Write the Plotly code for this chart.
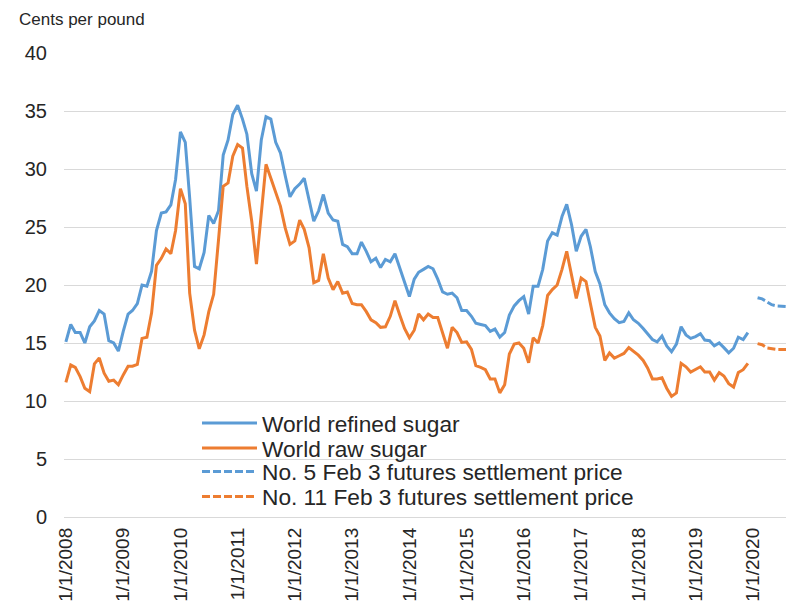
import pandas as pd
import plotly.graph_objects as go

# ---- data (cents per pound) ----
months = pd.date_range("2008-01-01", periods=144, freq="MS")

refined = [
    15.1, 16.6, 15.9, 15.9, 15.0, 16.4, 16.9, 17.8, 17.5, 15.2, 15.0, 14.3,   # 2008
    16.0, 17.5, 17.8, 18.4, 20.0, 19.9, 21.2, 24.7, 26.2, 26.3, 26.9, 29.1,   # 2009
    33.2, 32.3, 27.5, 21.6, 21.4, 22.8, 26.0, 25.3, 26.4, 31.2, 32.5, 34.7,   # 2010
    35.5, 34.3, 33.0, 29.6, 28.1, 32.5, 34.5, 34.3, 32.3, 31.4, 29.4, 27.6,   # 2011
    28.3, 28.7, 29.2, 27.3, 25.5, 26.4, 27.8, 26.2, 25.6, 25.5, 23.5, 23.3,   # 2012
    22.7, 22.7, 23.7, 22.9, 22.0, 22.3, 21.5, 22.2, 22.0, 22.7, 21.4, 20.3,   # 2013
    19.0, 20.5, 21.1, 21.35, 21.6, 21.4, 20.5, 19.4, 19.2, 19.3, 18.9, 17.8,  # 2014
    17.8, 17.3, 16.7, 16.6, 16.5, 16.0, 16.2, 15.5, 15.9, 17.4, 18.2, 18.65,  # 2015
    19.0, 17.5, 19.9, 19.9, 21.35, 23.8, 24.5, 24.3, 25.9, 26.95, 25.2, 22.9, # 2016
    24.2, 24.8, 23.3, 21.15, 20.1, 18.3, 17.6, 17.1, 16.75, 16.85, 17.6, 17.0,  # 2017
    16.7, 16.25, 15.8, 15.3, 15.1, 15.6, 14.75, 14.25, 14.9, 16.4, 15.7, 15.4,  # 2018
    15.55, 15.8, 15.25, 15.2, 14.75, 15.0, 14.6, 14.15, 14.55, 15.5, 15.3, 15.9,  # 2019
]

raw = [
    11.6, 13.1, 12.9, 12.1, 11.1, 10.8, 13.2, 13.7, 12.4, 11.7, 11.8, 11.4,   # 2008
    12.25, 13.0, 13.0, 13.15, 15.4, 15.5, 17.6, 21.7, 22.3, 23.1, 22.7, 24.7,  # 2009
    28.3, 27.0, 19.3, 16.1, 14.5, 15.7, 17.7, 19.2, 23.9, 28.5, 28.8, 31.1,   # 2010
    32.1, 31.8, 28.5, 25.5, 21.8, 26.0, 30.4, 29.2, 28.0, 26.8, 24.9, 23.5,   # 2011
    23.8, 25.6, 24.8, 23.2, 20.2, 20.4, 22.7, 20.6, 19.6, 20.3, 19.3, 19.4,   # 2012
    18.4, 18.3, 18.3, 17.7, 17.0, 16.75, 16.35, 16.4, 17.3, 18.65, 17.4, 16.25,  # 2013
    15.45, 16.1, 17.5, 17.0, 17.5, 17.2, 17.2, 15.85, 14.55, 16.35, 15.9, 15.05,  # 2014
    15.1, 14.45, 13.05, 12.9, 12.7, 11.9, 11.9, 10.7, 11.4, 14.05, 14.9, 15.0,   # 2015
    14.55, 13.3, 15.45, 15.0, 16.5, 19.1, 19.6, 20.0, 21.35, 22.9, 20.9, 18.85,  # 2016
    20.6, 20.3, 18.4, 16.35, 15.6, 13.5, 14.15, 13.7, 13.9, 14.1, 14.6, 14.3,   # 2017
    13.95, 13.5, 12.85, 11.9, 11.9, 12.0, 11.1, 10.4, 10.7, 13.25, 12.95, 12.5,  # 2018
    12.7, 12.95, 12.5, 12.5, 11.8, 12.45, 12.15, 11.5, 11.2, 12.45, 12.7, 13.25,  # 2019
]

fut_months = ["2020-02-01", "2020-03-01", "2020-04-01", "2020-05-01",
              "2020-06-01", "2020-07-01", "2020-08-01"]
no5_futures = [18.9, 18.8, 18.55, 18.3, 18.2, 18.15, 18.15]
no11_futures = [14.95, 14.85, 14.57, 14.48, 14.45, 14.45, 14.45]

tick_years = list(range(2008, 2021))
tick_vals = [f"{y}-01-01" for y in tick_years]
tick_text = [f"1/1/{y}" for y in tick_years]

names = ["World refined sugar", "World raw sugar",
         "No. 5 Feb 3 futures settlement price",
         "No. 11 Feb 3 futures settlement price"]

BLUE = "#5B9BD5"
ORANGE = "#ED7D31"
FONT = "Liberation Sans, Arial, sans-serif"
TXT = "#262626"

fig = go.Figure()
fig.add_trace(go.Scatter(x=months, y=refined, mode="lines", name=names[0],
                         line=dict(color=BLUE, width=3), legend="legend"))
fig.add_trace(go.Scatter(x=months, y=raw, mode="lines", name=names[1],
                         line=dict(color=ORANGE, width=3), legend="legend2"))
fig.add_trace(go.Scatter(x=fut_months, y=no5_futures, mode="lines", name=names[2],
                         line=dict(color=BLUE, width=3, dash="8px,3px"), legend="legend3"))
fig.add_trace(go.Scatter(x=fut_months, y=no11_futures, mode="lines", name=names[3],
                         line=dict(color=ORANGE, width=3, dash="8px,3px"), legend="legend4"))

# The page body adds an 8px offset; size the figure so it fits the 794x603 window.
OFF = 8
W, H = 794 - OFF, 603 - OFF
# plot area in page pixels: x 64..793, y 53..517
L = 64 - OFF
T = 53 - OFF
R = W - (793 - OFF)
B = H - (517 - OFF)
pw, ph = W - L - R, H - T - B

def px_to_paper_x(px):
    return (px - OFF - L) / pw

def px_to_paper_y(py):
    return (H - B - (py - OFF)) / ph

legend_rows = [423.3, 448.3, 471.7, 496.7]
legend_common = dict(x=px_to_paper_x(197), xanchor="left", yanchor="middle",
                     bgcolor="rgba(0,0,0,0)", borderwidth=0,
                     font=dict(family=FONT, size=22.7, color=TXT),
                     itemwidth=55, itemclick=False, itemdoubleclick=False)

layout_legends = {}
for k, key in enumerate(["legend", "legend2", "legend3", "legend4"]):
    layout_legends[key] = dict(legend_common, y=px_to_paper_y(legend_rows[k]))

fig.update_layout(
    width=W, height=H,
    margin=dict(l=L, r=R, t=T, b=B, pad=0, autoexpand=False),
    paper_bgcolor="white", plot_bgcolor="white",
    font=dict(family=FONT, color=TXT),
    showlegend=True,
    **layout_legends,
    xaxis=dict(
        type="date",
        range=["2007-12-20", "2020-09-14"],
        tickmode="array", tickvals=tick_vals, ticktext=tick_text,
        tickangle=-90, tickfont=dict(family=FONT, size=19, color=TXT),
        showgrid=False, zeroline=False, showline=False, ticks="",
        ticklabelstandoff=6,
    ),
    yaxis=dict(
        range=[0, 40], tickmode="linear", tick0=0, dtick=5,
        showgrid=True, gridcolor="#D9D9D9", gridwidth=1,
        zeroline=True, zerolinecolor="#D9D9D9", zerolinewidth=1,
        showline=False, ticks="",
        tickfont=dict(family=FONT, size=20, color=TXT),
        ticklabelstandoff=16,
    ),
    annotations=[dict(
        text="Cents per pound", xref="paper", yref="paper",
        x=px_to_paper_x(17), y=px_to_paper_y(19),
        xanchor="left", yanchor="middle", showarrow=False,
        font=dict(family=FONT, size=17, color=TXT),
    )],
)

fig.write_html("out.html")
